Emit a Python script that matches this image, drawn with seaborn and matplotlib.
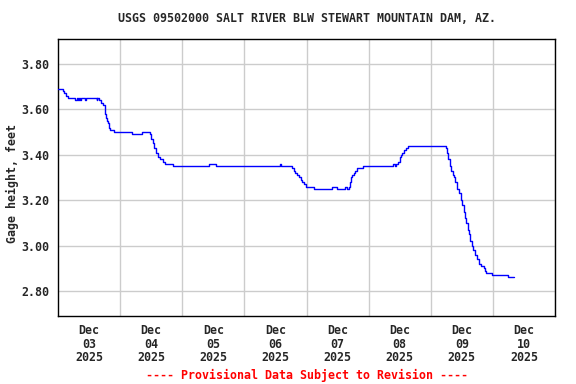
import pandas as pd
import numpy as np
import matplotlib
matplotlib.use("Agg")
import matplotlib.pyplot as plt
import matplotlib.dates as mdates
import seaborn as sns

# gage readings, hours after Dec 03 2025 00:00 -> gage height (feet)
hours = [0.0, 2.0, 2.5, 3.25, 4.0, 6.5, 7.25, 7.75, 8.0, 8.5, 9.0, 10.5, 10.75,
         15.0, 15.25, 16.0, 16.75, 17.5, 18.0, 18.25, 18.5, 19.0, 19.25, 19.75,
         20.25, 21.5, 28.5, 32.5, 35.5, 36.0, 36.75, 37.25, 38.0, 38.5, 39.5,
         40.5, 41.25, 44.5, 58.25, 61.0, 85.75, 86.0, 90.5, 91.25, 91.75, 92.5,
         93.0, 93.75, 94.25, 95.0, 95.75, 98.75, 106.0, 107.75, 111.0, 111.5,
         112.25, 112.75, 113.25, 113.75, 114.25, 114.75, 115.5, 117.75, 129.25,
         130.0, 130.75, 131.5, 132.0, 132.5, 133.0, 133.5, 134.25, 135.25,
         149.75, 150.25, 150.75, 151.5, 152.0, 152.5, 153.0, 153.5, 154.25,
         155.0, 155.75, 156.25, 156.75, 157.25, 157.75, 158.25, 158.75, 159.25,
         159.75, 160.5, 161.25, 162.0, 162.75, 163.5, 164.5, 165.0, 165.5,
         167.5, 174.0, 176.25]
gage = [3.69, 3.68, 3.67, 3.66, 3.65, 3.64, 3.65, 3.64, 3.65, 3.64, 3.65, 3.64, 3.65,
        3.64, 3.65, 3.64, 3.63, 3.62, 3.60, 3.58, 3.56, 3.55, 3.54, 3.52,
        3.51, 3.50, 3.49, 3.50, 3.49, 3.47, 3.45, 3.43, 3.41, 3.39, 3.38,
        3.37, 3.36, 3.35, 3.36, 3.35, 3.36, 3.35, 3.34, 3.33, 3.32, 3.31,
        3.30, 3.29, 3.28, 3.27, 3.26, 3.25, 3.26, 3.25, 3.26, 3.25,
        3.26, 3.28, 3.30, 3.31, 3.32, 3.33, 3.34, 3.35, 3.36,
        3.35, 3.36, 3.37, 3.39, 3.40, 3.41, 3.42, 3.43, 3.44,
        3.43, 3.41, 3.38, 3.35, 3.33, 3.31, 3.30, 3.28, 3.25,
        3.23, 3.20, 3.18, 3.15, 3.12, 3.10, 3.07, 3.05, 3.02,
        3.00, 2.98, 2.96, 2.94, 2.92, 2.91, 2.90, 2.89, 2.88,
        2.87, 2.86, 2.86]
y_ticks = [2.80, 3.00, 3.20, 3.40, 3.60, 3.80]
days = pd.date_range("2025-12-03", "2025-12-10", freq="D")

start = days[0]
df = pd.DataFrame({"time": start + pd.to_timedelta(hours, unit="h"), "gage": gage})

sns.set_style("white")
plt.rcParams["font.family"] = ["DejaVu Sans Mono"]
plt.rcParams["font.weight"] = "bold"
fs = 8.4

fig = plt.figure(figsize=(5.76, 3.84), dpi=100)
ax = fig.add_axes([58/576, 1-316/384, 497/576, 277/384])

sns.lineplot(data=df, x="time", y="gage", ax=ax, color="#0000ff", linewidth=1,
             drawstyle="steps-post", zorder=3)

ax.set_xlim(start, start + pd.Timedelta(days=8))
ax.set_ylim(2.69, 3.91)
ax.set_yticks(y_ticks)
ax.set_yticklabels([f"{v:.2f}" for v in y_ticks], fontsize=fs, fontweight="bold")

# gridlines at midnight, labels at noon
ax.set_xticks(list(days[1:]) + [start + pd.Timedelta(days=8)])
ax.set_xticklabels([])
ax.set_xticks(days + pd.Timedelta(hours=12),
              [d.strftime("%b\n%d\n%Y") for d in days],
              minor=True, fontsize=fs, fontweight="bold", linespacing=1.05)
ax.tick_params(axis="both", which="both", length=0)
ax.tick_params(axis="x", which="minor", pad=6)
ax.tick_params(axis="y", pad=6)

ax.grid(True, which="major", color="#cccccc", linewidth=1)
for s in ax.spines.values():
    s.set_color("black")
    s.set_linewidth(1.0)

ax.set_xlabel("")
ax.set_ylabel("Gage height, feet", fontsize=fs, fontweight="bold")
ax.yaxis.set_label_coords(-0.078, 0.48)

cx = (58 + 497/2) / 576
fig.text(cx, 1-19/384, "USGS 09502000 SALT RIVER BLW STEWART MOUNTAIN DAM, AZ.",
         ha="center", va="center", fontsize=fs, fontweight="bold")
fig.text(cx, 1-375/384, "---- Provisional Data Subject to Revision ----",
         ha="center", va="center", fontsize=fs, fontweight="bold", color="red")

fig.savefig("out.png", dpi=100)
